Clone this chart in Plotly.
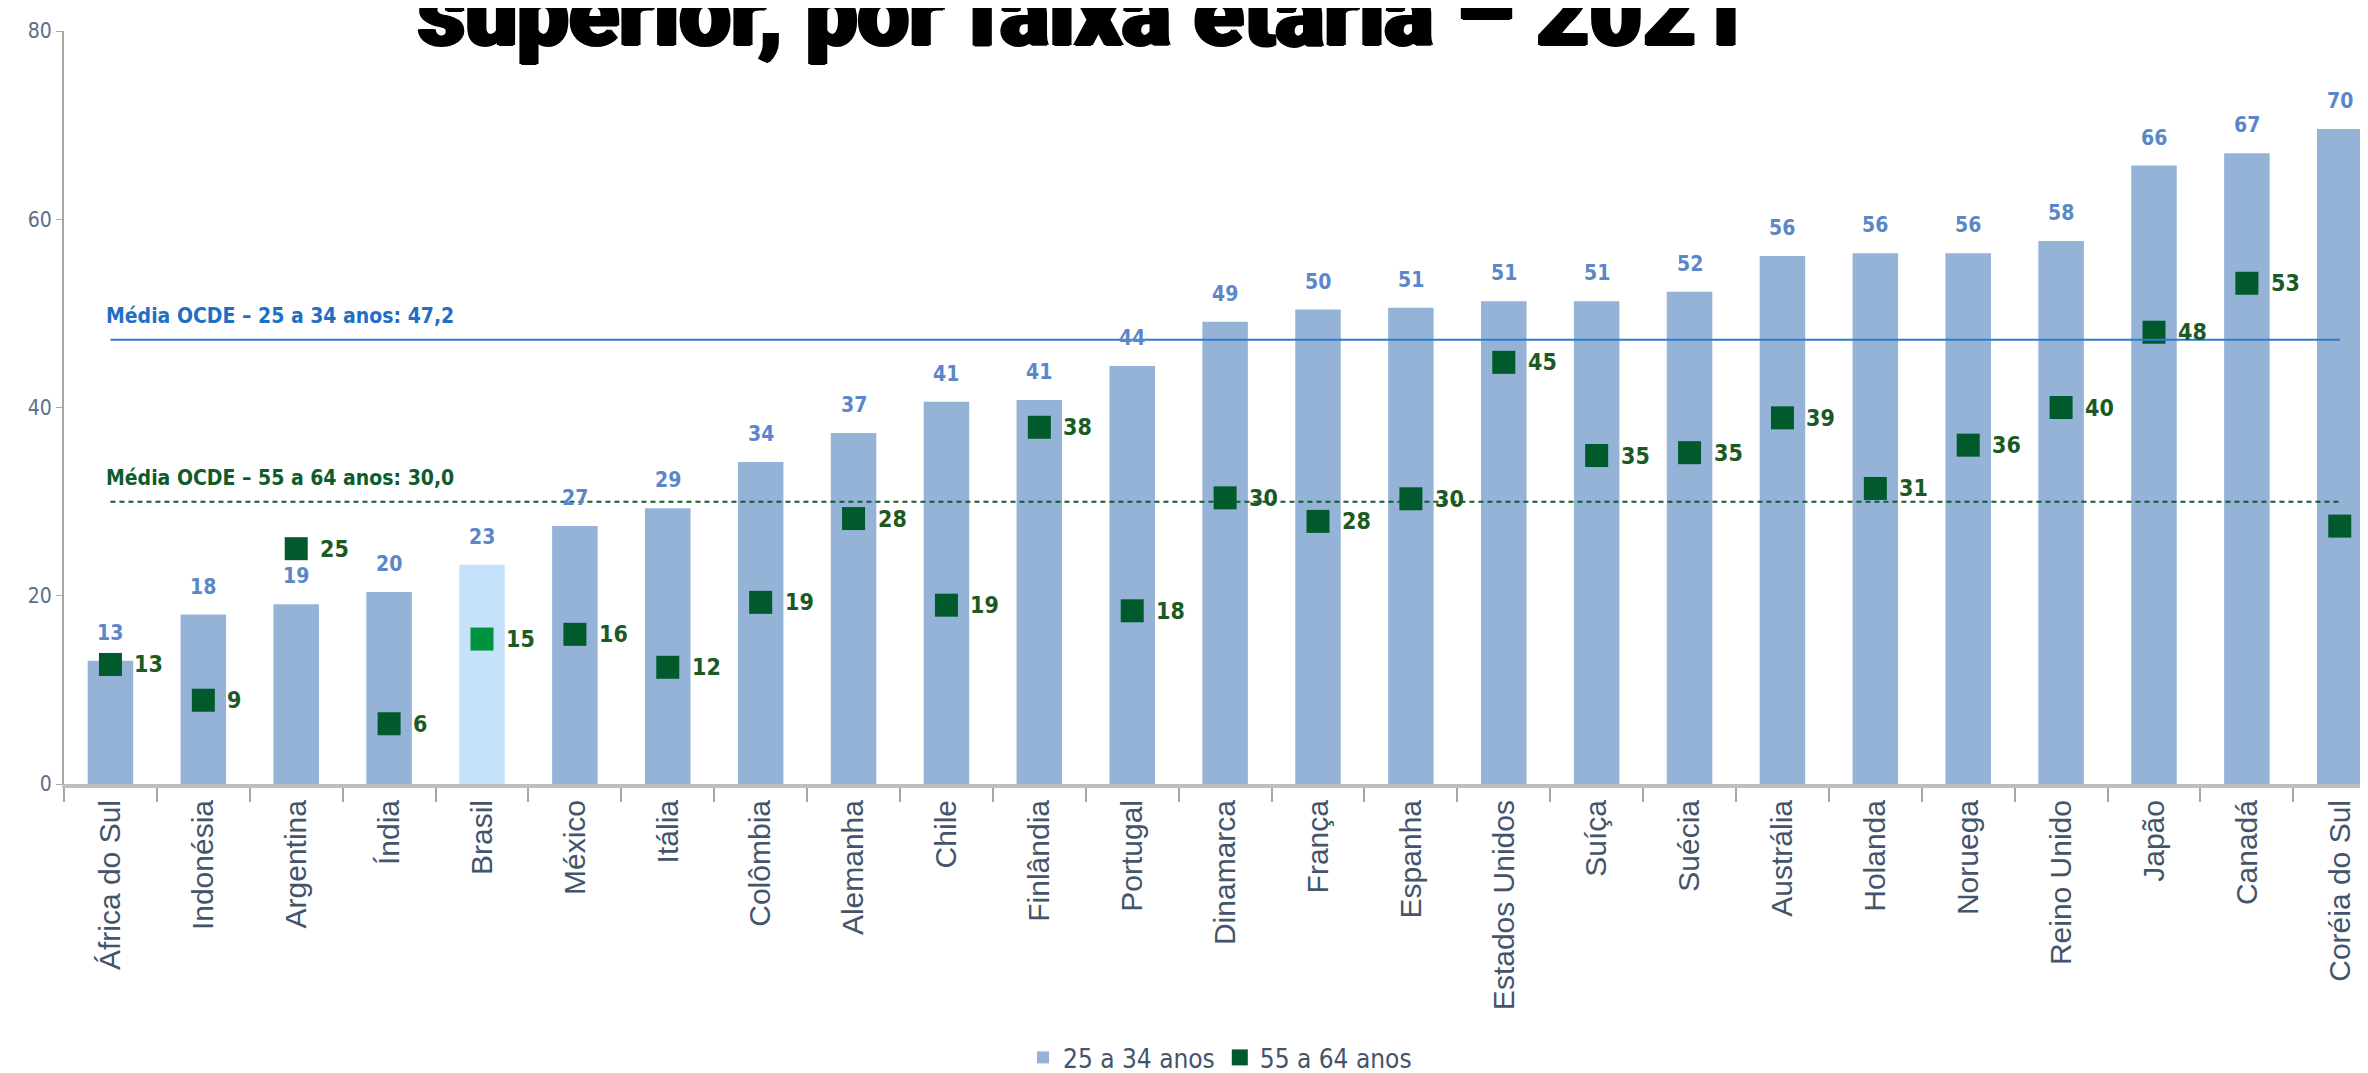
import plotly.graph_objects as go

paises = [
	'África do Sul', 'Indonésia', 'Argentina', 'Índia', 'Brasil', 'México', 'Itália',
	'Colômbia', 'Alemanha', 'Chile', 'Finlândia', 'Portugal', 'Dinamarca', 'França',
	'Espanha', 'Estados Unidos', 'Suíça', 'Suécia', 'Austrália', 'Holanda', 'Noruega',
	'Reino Unido', 'Japão', 'Canadá', 'Coréia do Sul',
]
# % com ensino superior, 25 a 34 anos
jovens = [13.1, 18.0, 19.1, 20.4, 23.3, 27.4, 29.3, 34.2, 37.3, 40.6, 40.8, 44.4, 49.1,
	50.4, 50.6, 51.3, 51.3, 52.3, 56.1, 56.4, 56.4, 57.7, 65.7, 67.0, 69.6]
# % com ensino superior, 55 a 64 anos
adultos = [12.7, 8.9, 25.0, 6.4, 15.4, 15.9, 12.4, 19.3, 28.2, 19.0, 37.9, 18.4, 30.4,
	27.9, 30.3, 44.8, 34.9, 35.2, 38.9, 31.4, 36.0, 40.0, 48.0, 53.2, 27.4]
media_jovens = 47.2
media_adultos = 30.0
y_ticks = [0, 20, 40, 60, 80]

destaque = 'Brasil'
NARROW = 'Liberation Sans Narrow, DejaVu Sans Condensed, Arial Narrow, sans-serif'
AZUL_BARRA = '#95b3d7'
AZUL_BRASIL = '#c6e2fb'
VERDE = '#005a2b'
VERDE_BRASIL = '#00923f'
AZUL_TXT = '#5b87c8'
VERDE_TXT = '#1b5a24'
CINZA_TXT = '#44546a'

cores_barra = [AZUL_BRASIL if p == destaque else AZUL_BARRA for p in paises]
cores_ponto = [VERDE_BRASIL if p == destaque else VERDE for p in paises]

fig = go.Figure()
fig.add_trace(go.Bar(
	x=paises, y=jovens, name='25 a 34 anos', width=0.49,
	marker=dict(color=cores_barra, line_width=0),
))
fig.add_trace(go.Scatter(
	x=paises, y=adultos, name='55 a 64 anos', mode='markers',
	marker=dict(symbol='square', size=23, color=cores_ponto, line_width=0),
	cliponaxis=False,
))

annotations = []
for p, v in zip(paises, jovens):
	annotations.append(dict(
		x=p, y=v, text=f'{v:.0f}', showarrow=False, yanchor='bottom', yshift=14,
		font=dict(family=NARROW, size=21, color=AZUL_TXT, weight='bold'),
	))
for p, v in zip(paises, adultos):
	annotations.append(dict(
		x=p, y=v, text=f'{v:.0f}', showarrow=False, xanchor='left', xshift=22,
		font=dict(family=NARROW, size=23, color=VERDE_TXT, weight='bold'),
	))
annotations.append(dict(
	x=paises[0], y=media_jovens, xanchor='left', yanchor='bottom', yshift=10, xshift=-6,
	text='Média OCDE – 25 a 34 anos: ' + f'{media_jovens:.1f}'.replace('.', ','),
	showarrow=False, font=dict(family=NARROW, size=21, color='#1f6fc5', weight=600),
))
annotations.append(dict(
	x=paises[0], y=media_adultos, xanchor='left', yanchor='bottom', yshift=10, xshift=-6,
	text='Média OCDE – 55 a 64 anos: ' + f'{media_adultos:.1f}'.replace('.', ','),
	showarrow=False, font=dict(family=NARROW, size=21, color='#0d5c2c', weight=600),
))
annotations.append(dict(
	xref='paper', yref='paper', x=0.441, y=0.950, xanchor='center', yanchor='bottom',
	text='superior, por faixa etária – 2021', showarrow=False,
	font=dict(family='Roboto, Lato, DejaVu Sans', size=92, color='#000000', weight=900,
		shadow='2px 0 0 #000, -2px 0 0 #000, 0 1px 0 #000'),
))

shapes = [
	dict(type='line', xref='x', yref='y', x0=0, x1=len(paises) - 1, y0=media_jovens, y1=media_jovens,
		line=dict(color='#2f7bd0', width=2)),
	dict(type='line', xref='x', yref='y', x0=0, x1=len(paises) - 1, y0=media_adultos, y1=media_adultos,
		line=dict(color='#0d5c2c', width=2, dash='5px,4px')),
]

fig.update_layout(
	width=2368, height=1073,
	margin=dict(l=56, r=0, t=23, b=292),
	paper_bgcolor='white', plot_bgcolor='white',
	showlegend=True,
	legend=dict(orientation='h', x=0.5, xanchor='center', y=-0.364, yanchor='middle',
		font=dict(family=NARROW, size=26, color=CINZA_TXT), itemwidth=30),
	annotations=annotations,
	shapes=shapes,
	bargap=0.5,
)
fig.update_xaxes(
	range=[-0.5, 24.39], tickangle=-90, tickson='boundaries', ticks='outside', ticklen=14,
	tickcolor='#a6a6a6', tickwidth=2, showline=True, linecolor='#bfbfbf', linewidth=4,
	showgrid=False, tickfont=dict(family='Liberation Sans, Arial, sans-serif', size=30, color=CINZA_TXT),
)
fig.update_yaxes(
	range=[0, 80], tickvals=y_ticks, ticks='outside', ticklen=6, tickcolor='#a6a6a6',
	showline=True, linecolor='#a6a6a6', linewidth=2, showgrid=False, zeroline=False,
	tickfont=dict(family=NARROW, size=21, color='#5b6e8c'),
)

fig.write_html('out.html')
